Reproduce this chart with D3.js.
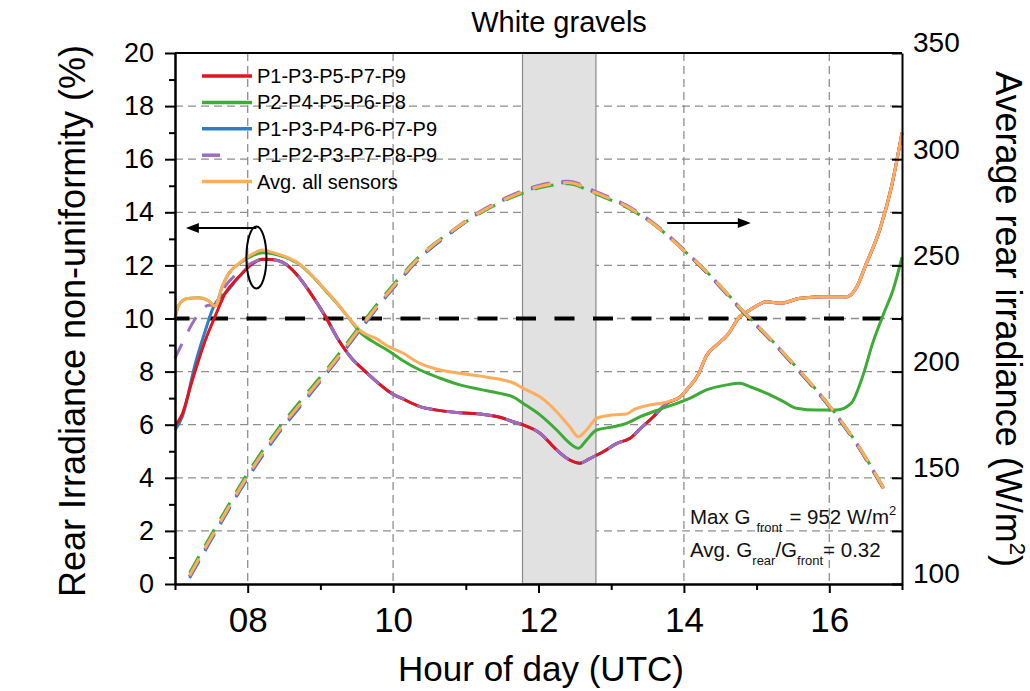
<!DOCTYPE html>
<html><head><meta charset="utf-8">
<script src="https://cdn.jsdelivr.net/npm/d3@7"></script>
<style>
body{margin:0;background:#fff}
svg{display:block;font-family:"Liberation Sans",Arial,Helvetica,sans-serif}
</style>
</head><body>
<svg id="c" width="1030" height="691"></svg>
<script>
// ---------------- data ----------------
const chartTitle = "White gravels";
const xLabel = "Hour of day (UTC)";
const yLeftLabel = "Rear Irradiance non-uniformity (%)";
const yRightLabel = "Average rear irradiance (W/m";
const xDomain = [7, 17];
const xTicks = [8, 10, 12, 14, 16];
const xTickLabels = ["08", "10", "12", "14", "16"];
const xMinorTicks = [7, 9, 11, 13, 15, 17];
const yLeftDomain = [0, 20];
const yLeftTicks = [0, 2, 4, 6, 8, 10, 12, 14, 16, 18, 20];
const yLeftMinor = [1, 3, 5, 7, 9, 11, 13, 15, 17, 19];
const yRightDomain = [100, 350];
const yRightTicks = [100, 125, 150, 175, 200, 225, 250, 275, 300, 325, 350];
const gridValues = [2, 4, 6, 8, 10, 12, 14, 16, 18];
const shadeStart = 11.78, shadeEnd = 12.79;
const thresholdValue = 10;

const seriesNames = ["P1-P3-P5-P7-P9", "P2-P4-P5-P6-P8", "P1-P3-P4-P6-P7-P9", "P1-P2-P3-P7-P8-P9", "Avg. all sensors"];
const seriesColors = ["#e3141d", "#3dab36", "#2d7ec2", "#9c6cc2", "#fdad5c"];

// non-uniformity (%) [hour, value]
const redSeries = [[7.0,5.95],[7.1,6.4],[7.23,7.6],[7.42,9.2],[7.55,10.07],[7.69,10.95],[7.88,11.57],[8.06,12.05],[8.2,12.23],[8.33,12.22],[8.52,12.05],[8.7,11.57],[8.88,10.89],[9.07,10.07],[9.25,9.19],[9.43,8.5],[9.62,8.0],[9.8,7.56],[9.98,7.18],[10.12,6.99],[10.37,6.68],[10.65,6.53],[10.92,6.45],[11.2,6.4],[11.47,6.28],[11.65,6.11],[11.79,5.99],[12.02,5.68],[12.25,5.05],[12.43,4.67],[12.57,4.55],[12.71,4.73],[12.89,4.98],[13.08,5.3],[13.26,5.49],[13.4,5.85],[13.58,6.3],[13.76,6.8],[13.95,7.05],[14.05,7.35],[14.2,7.9],[14.31,8.6],[14.45,9.0],[14.59,9.35],[14.77,10.07],[14.91,10.32],[15.14,10.63],[15.32,10.57],[15.6,10.76],[15.92,10.82],[16.24,10.82],[16.38,11.2],[16.5,12.0],[16.7,13.4],[16.85,14.9],[17.0,17.0]];
const greenSeries = [[7.0,10.0],[7.05,10.5],[7.17,10.75],[7.33,10.78],[7.46,10.67],[7.55,10.47],[7.65,11.2],[7.74,11.7],[7.88,12.06],[8.06,12.36],[8.2,12.48],[8.33,12.45],[8.52,12.3],[8.7,12.06],[8.88,11.62],[9.07,11.05],[9.25,10.5],[9.43,9.88],[9.57,9.42],[9.71,9.15],[9.94,8.78],[10.12,8.44],[10.37,8.06],[10.65,7.75],[10.92,7.5],[11.2,7.33],[11.47,7.18],[11.65,7.05],[11.79,6.8],[12.02,6.37],[12.25,5.8],[12.43,5.3],[12.55,5.11],[12.66,5.42],[12.8,5.8],[13.03,5.92],[13.21,6.05],[13.4,6.3],[13.67,6.58],[13.95,6.85],[14.08,6.99],[14.31,7.31],[14.59,7.5],[14.77,7.56],[14.91,7.43],[15.14,7.18],[15.37,6.87],[15.55,6.62],[15.83,6.55],[16.1,6.55],[16.3,6.8],[16.45,7.75],[16.6,9.1],[16.75,10.2],[16.88,11.1],[17.0,12.3]];
const blueSeries = [[7.0,5.8],[7.1,6.3],[7.28,8.31],[7.42,9.57],[7.53,10.44],[7.62,10.8],[7.69,10.95],[7.88,11.57],[8.06,12.05],[8.2,12.23],[8.33,12.22],[8.52,12.05],[8.7,11.57],[8.88,10.89],[9.07,10.07],[9.25,9.19],[9.43,8.5],[9.62,8.0],[9.8,7.56],[9.98,7.18],[10.12,6.99],[10.37,6.68],[10.65,6.53],[10.92,6.45],[11.2,6.4],[11.47,6.28],[11.65,6.11],[11.79,5.99],[12.02,5.68],[12.25,5.05],[12.43,4.67],[12.57,4.55],[12.71,4.73],[12.89,4.98],[13.08,5.3],[13.26,5.49],[13.4,5.85],[13.58,6.3],[13.76,6.8],[13.95,7.05],[14.05,7.35],[14.2,7.9],[14.31,8.6],[14.45,9.0],[14.59,9.35],[14.77,10.07],[14.91,10.32],[15.14,10.63],[15.32,10.57],[15.6,10.76],[15.92,10.82],[16.24,10.82],[16.38,11.2],[16.5,12.0],[16.7,13.4],[16.85,14.9],[17.0,17.0]];
const purpleSeries = [[7.0,8.5],[7.1,9.07],[7.28,10.0],[7.37,10.32],[7.46,10.5],[7.55,10.5],[7.62,10.9],[7.7,11.25],[7.88,11.75],[8.06,12.1],[8.2,12.22],[8.33,12.22],[8.52,12.05],[8.7,11.57],[8.88,10.89],[9.07,10.07],[9.25,9.19],[9.43,8.5],[9.62,8.0],[9.8,7.56],[9.98,7.18],[10.12,6.99],[10.37,6.68],[10.65,6.53],[10.92,6.45],[11.2,6.4],[11.47,6.28],[11.65,6.11],[11.79,5.99],[12.02,5.68],[12.25,5.05],[12.43,4.67],[12.57,4.55],[12.71,4.73],[12.89,4.98],[13.08,5.3],[13.26,5.49],[13.4,5.85],[13.58,6.3],[13.76,6.8],[13.95,7.05],[14.05,7.35],[14.2,7.9],[14.31,8.6],[14.45,9.0],[14.59,9.35],[14.77,10.07],[14.91,10.32],[15.14,10.63],[15.32,10.57],[15.6,10.76],[15.92,10.82],[16.24,10.82],[16.38,11.2],[16.5,12.0],[16.7,13.4],[16.85,14.9],[17.0,17.0]];
const orangeSeries = [[7.0,10.0],[7.05,10.5],[7.17,10.75],[7.33,10.78],[7.46,10.67],[7.55,10.47],[7.65,11.2],[7.74,11.7],[7.88,12.08],[8.06,12.42],[8.2,12.58],[8.33,12.5],[8.52,12.33],[8.7,12.08],[8.88,11.64],[9.07,11.07],[9.25,10.51],[9.43,9.9],[9.57,9.5],[9.76,9.25],[9.94,8.94],[10.12,8.72],[10.37,8.31],[10.65,8.06],[10.92,7.94],[11.2,7.83],[11.47,7.71],[11.65,7.58],[11.79,7.37],[12.02,7.05],[12.25,6.49],[12.43,5.92],[12.55,5.55],[12.66,5.8],[12.8,6.24],[13.03,6.37],[13.21,6.4],[13.3,6.55],[13.53,6.74],[13.76,6.85],[13.95,7.05],[14.05,7.35],[14.2,7.9],[14.31,8.6],[14.45,9.0],[14.59,9.35],[14.77,10.07],[14.91,10.32],[15.14,10.63],[15.32,10.57],[15.6,10.76],[15.92,10.82],[16.24,10.82],[16.38,11.2],[16.5,12.0],[16.7,13.4],[16.85,14.9],[17.0,17.0]];

// average rear irradiance (W/m2), right axis
const irrHours = [7.2,7.6,8.0,8.4,8.8,9.2,9.6,10.0,10.4,10.8,11.2,11.6,12.0,12.4,12.8,13.2,13.6,14.0,14.4,14.8,15.2,15.6,16.0,16.4,16.75];
const irrRed    = [103.5,127.5,150.5,170.5,187.5,204.5,222.5,239.5,254.5,265.5,275,282,287,289,284,278,269,257,243.5,228.5,214.5,199.5,183.5,164.5,144.5];
const irrGreen  = [105.2,129.2,152.2,172.2,189.2,206,224,240.8,255.5,266,274.6,281.5,286.4,288.4,283.5,277.5,269,257,244,229,215,200,184,165,145];
const irrBlue   = [102.8,126.8,149.8,169.8,186.8,204,222,239.2,254.5,265.5,275,282,287,289,284,278,269,257,243.5,228.5,214.5,199.5,183.5,164.5,144.5];
const irrPurple = [103.5,127.5,150.5,170.5,187.5,204.5,222.5,239.5,255,266,275.5,282.6,287.6,289.6,284.6,278.5,269.5,257.5,244,229,215,200,184,165,145];
const irrAvg    = [104,128,151,171,188,205,223,240,255,266,275,282,287,289,284,278,269,257,244,229,215,200,184,165,145];

// annotation anchors (data coordinates)
const ellipseAnchor = [8.12, 12.3];
const leftArrow = {from: [8.12, 13.41], to: [7.15, 13.41]};
const rightArrow = {from: [13.77, 270], to: [14.92, 270]};

// ---------------- drawing ----------------
const FONT = '"Liberation Sans",Arial,Helvetica,sans-serif';
const X0 = 175, X1 = 902, Y0 = 53, Y1 = 584;
const svg = d3.select("#c");
svg.append("rect").attr("width",1030).attr("height",691).attr("fill","#fff");

const x = d3.scaleLinear().domain(xDomain).range([X0, X1]);
const yL = d3.scaleLinear().domain(yLeftDomain).range([Y1, Y0]);
const yR = d3.scaleLinear().domain(yRightDomain).range([Y1, Y0]);

// grid
const grid = svg.append("g").attr("stroke","#8e8e8e").attr("stroke-width",1.3).attr("stroke-dasharray","8,5");
grid.selectAll("line.h").data(gridValues).join("line").attr("class","h")
  .attr("x1",X0).attr("x2",X1).attr("y1",d=>yL(d)).attr("y2",d=>yL(d));
grid.selectAll("line.v").data(xTicks).join("line").attr("class","v")
  .attr("x1",d=>x(d)).attr("x2",d=>x(d)).attr("y1",Y0).attr("y2",Y1);

// shaded band
svg.append("rect").attr("x",x(shadeStart)).attr("width",x(shadeEnd)-x(shadeStart))
  .attr("y",Y0).attr("height",Y1-Y0).attr("fill","#e1e1e1").attr("stroke","#8a8a8a").attr("stroke-width",1.2);

// threshold line
svg.append("line").attr("x1",X0).attr("x2",X1).attr("y1",yL(thresholdValue)).attr("y2",yL(thresholdValue))
  .attr("stroke","#000").attr("stroke-width",4).attr("stroke-dasharray","20,18.5").attr("stroke-dashoffset",5.5);

// left-axis lines
const lineL = d3.line().x(d=>x(d[0])).y(d=>yL(d[1])).curve(d3.curveMonotoneX);
const leftDraw = [
  {data: blueSeries, color: seriesColors[2], dash: null},
  {data: redSeries, color: seriesColors[0], dash: null},
  {data: purpleSeries, color: seriesColors[3], dash: "16,14"},
  {data: greenSeries, color: seriesColors[1], dash: null},
  {data: orangeSeries, color: seriesColors[4], dash: null}
];
leftDraw.forEach(s => {
  svg.append("path").attr("d", lineL(s.data)).attr("fill","none").attr("stroke",s.color)
    .attr("stroke-width",3).attr("stroke-linejoin","round").attr("stroke-dasharray", s.dash);
});

// right-axis dashed lines
const lineR = d3.line().x((d,i)=>x(irrHours[i])).y(d=>yR(d)).curve(d3.curveMonotoneX);
const rightDraw = [
  {data: irrRed, color: seriesColors[0]},
  {data: irrBlue, color: seriesColors[2]},
  {data: irrPurple, color: seriesColors[3]},
  {data: irrGreen, color: seriesColors[1]},
  {data: irrAvg, color: seriesColors[4]}
];
rightDraw.forEach(s => {
  svg.append("path").attr("d", lineR(s.data)).attr("fill","none").attr("stroke",s.color)
    .attr("stroke-width",3).attr("stroke-dasharray","19,12");
});

// axes
function styleAxis(g, fs){
  g.attr("font-family", FONT).attr("font-size", fs);
  g.select(".domain").attr("stroke","#000").attr("stroke-width",2);
  g.selectAll(".tick line").attr("stroke","#000").attr("stroke-width",2);
  g.selectAll(".tick text").attr("fill","#000");
}
const gL = svg.append("g").attr("transform",`translate(${X0},0)`)
  .call(d3.axisLeft(yL).tickValues(yLeftTicks).tickSize(10).tickSizeOuter(0).tickPadding(11));
styleAxis(gL, 27);
const gLm = svg.append("g").attr("transform",`translate(${X0},0)`)
  .call(d3.axisLeft(yL).tickValues(yLeftMinor).tickSize(6).tickSizeOuter(0).tickFormat(""));
styleAxis(gLm, 10);

const gB = svg.append("g").attr("transform",`translate(0,${Y1})`)
  .call(d3.axisBottom(x).tickValues(xTicks).tickSize(9).tickSizeOuter(0).tickPadding(14)
    .tickFormat(d => xTickLabels[xTicks.indexOf(d)]));
styleAxis(gB, 35);
const gBm = svg.append("g").attr("transform",`translate(0,${Y1})`)
  .call(d3.axisBottom(x).tickValues(xMinorTicks).tickSize(6).tickSizeOuter(0).tickFormat(""));
styleAxis(gBm, 10);

const gR = svg.append("g").attr("transform",`translate(${X1},0)`)
  .call(d3.axisRight(yR).tickValues(yRightTicks).tickSizeInner(-10).tickSizeOuter(0).tickPadding(11)
    .tickFormat(d => d % 50 === 0 ? d : ""));
styleAxis(gR, 28);
gR.selectAll(".tick text").attr("dy","-0.04em");

// top frame line
svg.append("line").attr("x1",X0).attr("x2",X1).attr("y1",Y0).attr("y2",Y0).attr("stroke","#000").attr("stroke-width",2);

// titles
svg.append("text").attr("x",559).attr("y",32).attr("text-anchor","middle")
  .attr("font-family",FONT).attr("font-size",29).text(chartTitle);
svg.append("text").attr("x",541).attr("y",681).attr("text-anchor","middle")
  .attr("font-family",FONT).attr("font-size",35).text(xLabel);
svg.append("text").attr("transform","translate(85,321) rotate(-90)").attr("text-anchor","middle")
  .attr("font-family",FONT).attr("font-size",36).text(yLeftLabel);
const rt = svg.append("text").attr("transform","translate(996,319) rotate(90)").attr("text-anchor","middle")
  .attr("font-family",FONT).attr("font-size",36);
rt.append("tspan").text(yRightLabel);
rt.append("tspan").attr("font-size",22).attr("dy",-14).text("2");
rt.append("tspan").attr("dy",14).text(")");

// legend
const legend = svg.append("g").attr("font-family",FONT).attr("font-size",20);
seriesNames.forEach((name,i) => {
  const yy = 76 + i*26.4;
  legend.append("line").attr("x1",202).attr("x2",252).attr("y1",yy).attr("y2",yy)
    .attr("stroke",seriesColors[i]).attr("stroke-width",3.5)
    .attr("stroke-dasharray", i===3 ? "18,40" : null);
  legend.append("text").attr("x",257).attr("y",yy+7).attr("fill","#000").text(name);
});

// annotation text
const a1 = svg.append("text").attr("x",690).attr("y",524).attr("font-family",FONT).attr("font-size",20.5).attr("fill","#111");
a1.append("tspan").text("Max G");
a1.append("tspan").attr("font-size",13).attr("dx",6).attr("dy",7.5).text("front");
a1.append("tspan").attr("dx",7).attr("dy",-7.5).text("= 952 W/m");
a1.append("tspan").attr("font-size",13).attr("dy",-9).text("2");
const a2 = svg.append("text").attr("x",690).attr("y",557).attr("font-family",FONT).attr("font-size",20.5).attr("fill","#111");
a2.append("tspan").text("Avg. G");
a2.append("tspan").attr("font-size",13).attr("dy",8).text("rear");
a2.append("tspan").attr("dy",-8).text("/G");
a2.append("tspan").attr("font-size",13).attr("dy",8).text("front");
a2.append("tspan").attr("dy",-8).text("= 0.32");

// ellipse + arrows
svg.append("ellipse").attr("cx",x(ellipseAnchor[0])).attr("cy",yL(ellipseAnchor[1]))
  .attr("rx",10).attr("ry",31).attr("fill","none").attr("stroke","#000").attr("stroke-width",2);
function arrow(x1,y1,x2,y2){
  const dir = Math.sign(x2-x1);
  svg.append("line").attr("x1",x1).attr("y1",y1).attr("x2",x2-dir*8).attr("y2",y2)
    .attr("stroke","#000").attr("stroke-width",2);
  svg.append("path").attr("d",`M${x2},${y2}L${x2-dir*13},${y2-5}L${x2-dir*13},${y2+5}Z`).attr("fill","#000");
}
arrow(x(leftArrow.from[0]), yL(leftArrow.from[1]), x(leftArrow.to[0]), yL(leftArrow.to[1]));
arrow(x(rightArrow.from[0]), yR(rightArrow.from[1]), x(rightArrow.to[0]), yR(rightArrow.to[1]));
</script>
</body></html>
